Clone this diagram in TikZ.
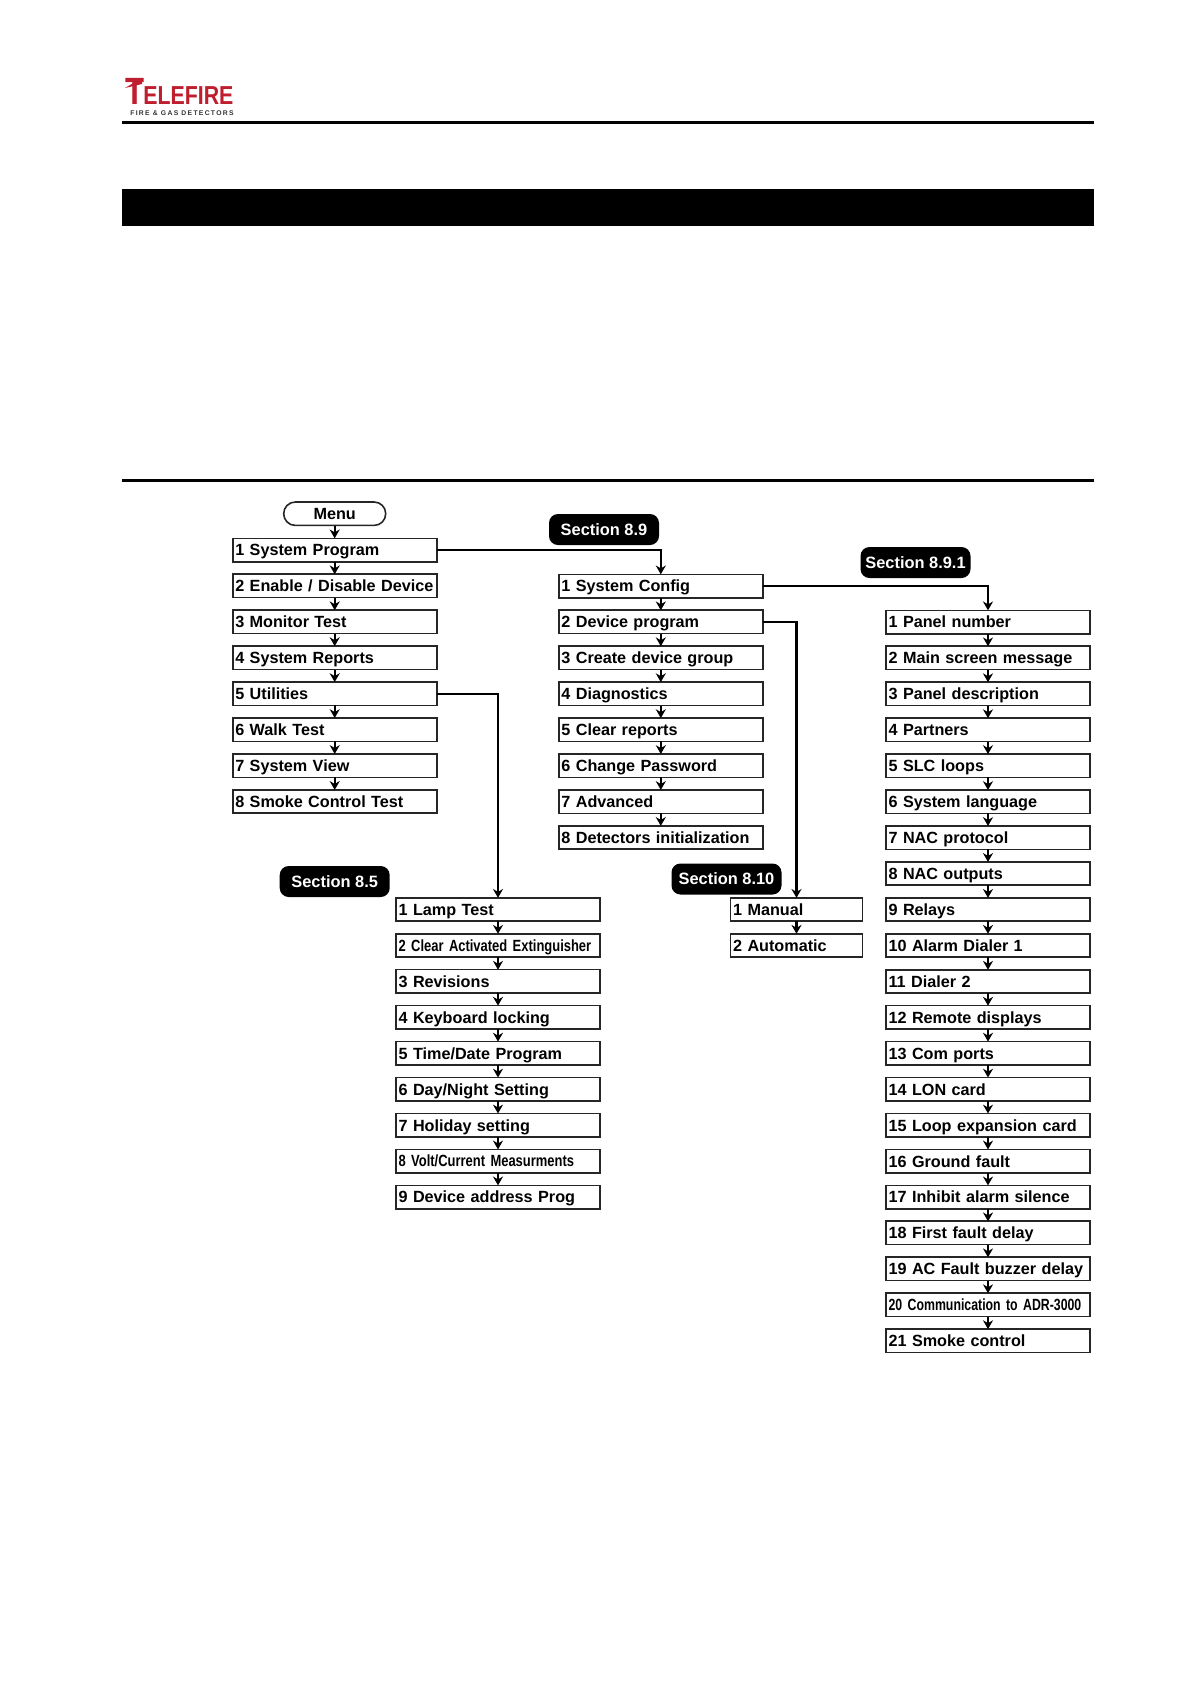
\documentclass[tikz,border=0pt]{standalone}
\usepackage{fontspec}
\setmainfont{Liberation Sans}
\newfontfamily\narrowfont[FakeStretch=0.8]{Liberation Sans}
\newfontfamily\tightfont[FakeStretch=0.76]{Liberation Sans}
\newfontfamily\logofont[FakeStretch=0.82]{Liberation Sans}
\newfontfamily\taglinefont[LetterSpace=19]{Liberation Sans}
\usetikzlibrary{arrows.meta, positioning}
\definecolor{logored}{RGB}{190,30,45}
\tikzstyle{menubox} = [
    rectangle, draw=black!85, line width=0.8pt,
    minimum width=102pt, minimum height=11.7pt, text width=99.4pt,
    inner xsep=1.3pt, inner ysep=0pt, outer sep=0pt, align=left,
    text height=7.1pt, text depth=1.2pt,
    font=\fontsize{8.1}{10}\selectfont\bfseries]
\tikzstyle{shortbox} = [
    menubox, minimum width=66pt, text width=63.4pt]
\tikzstyle{sectionbox} = [
    rectangle, rounded corners=4.5pt, fill=black, text=white,
    minimum width=55pt, minimum height=15.5pt, inner sep=0pt,
    font=\fontsize{8.2}{10}\selectfont\bfseries]
\tikzstyle{startbox} = [
    rectangle, rounded corners=5.8pt, draw=black!85, line width=0.8pt,
    minimum width=51pt, minimum height=11.7pt, inner sep=0pt,
    font=\fontsize{8.1}{10}\selectfont\bfseries]
\tikzstyle{arrow} = [line width=1.1pt, ->, >={Stealth[length=4.4pt,width=5pt]}]

\begin{document}
\begin{tikzpicture}[x=0.5pt, y=-0.5pt, node distance=6.27pt]
  \useasboundingbox (0,0) rectangle (1191,1683);

  % page header
  \node (logot) [text=logored, inner sep=0pt, font=\fontsize{19}{19}\selectfont\logofont\bfseries] at (135,91.5) {T};
  \node (logoname) [text=logored, inner sep=0pt, anchor=west, font=\fontsize{13}{13}\selectfont\logofont\bfseries] at (143,96) {ELEFIRE};
  \node (logotag) [text=black!80, inner sep=0pt, font=\fontsize{3.4}{4}\selectfont\taglinefont\bfseries] at (182,113) {FIRE \& GAS DETECTORS};
  \fill [logored] (125,88) -- (142,78) -- (142,84) -- cycle;
  \fill [black] (122,120.7) rectangle (1093.5,123.7);
  \fill [black] (122,189) rectangle (1093.5,226);
  \fill [black] (122,478.7) rectangle (1093.5,481.7);

  % main menu
  \node (menu) [startbox] at (334.7,513.7) {Menu};
  \node (sp) [menubox] at (334.7,550) {1 System Program};
  \node (enable) [menubox, below=of sp] {2 Enable / Disable Device};
  \node (monitor) [menubox, below=of enable] {3 Monitor Test};
  \node (reports) [menubox, below=of monitor] {4 System Reports};
  \node (utils) [menubox, below=of reports] {5 Utilities};
  \node (walk) [menubox, below=of utils] {6 Walk Test};
  \node (view) [menubox, below=of walk] {7 System View};
  \node (smoke) [menubox, below=of view] {8 Smoke Control Test};

  % section 8.9
  \node (sec89) [sectionbox] at (604,529.5) {Section 8.9};
  \node (config) [menubox] at (660.8,586) {1 System Config};
  \node (devprog) [menubox, below=of config] {2 Device program};
  \node (group) [menubox, below=of devprog] {3 Create device group};
  \node (diag) [menubox, below=of group] {4 Diagnostics};
  \node (clear) [menubox, below=of diag] {5 Clear reports};
  \node (passwd) [menubox, below=of clear] {6 Change Password};
  \node (adv) [menubox, below=of passwd] {7 Advanced};
  \node (detect) [menubox, below=of adv] {8 Detectors initialization};

  % section 8.9.1
  \node (sec891) [sectionbox] at (915.5,562.5) {Section 8.9.1};
  \node (panel) [menubox] at (988,622) {1 Panel number};
  \node (mainmsg) [menubox, below=of panel] {2 Main screen message};
  \node (paneldesc) [menubox, below=of mainmsg] {3 Panel description};
  \node (partners) [menubox, below=of paneldesc] {4 Partners};
  \node (slc) [menubox, below=of partners] {5 SLC loops};
  \node (lang) [menubox, below=of slc] {6 System language};
  \node (nacp) [menubox, below=of lang] {7 NAC protocol};
  \node (naco) [menubox, below=of nacp] {8 NAC outputs};
  \node (relays) [menubox, below=of naco] {9 Relays};
  \node (alarm) [menubox, below=of relays] {10 Alarm Dialer 1};
  \node (dialer) [menubox, below=of alarm] {11 Dialer 2};
  \node (remote) [menubox, below=of dialer] {12 Remote displays};
  \node (com) [menubox, below=of remote] {13 Com ports};
  \node (lon) [menubox, below=of com] {14 LON card};
  \node (loop) [menubox, below=of lon] {15 Loop expansion card};
  \node (ground) [menubox, below=of loop] {16 Ground fault};
  \node (inhibit) [menubox, below=of ground] {17 Inhibit alarm silence};
  \node (first) [menubox, below=of inhibit] {18 First fault delay};
  \node (acfault) [menubox, below=of first] {19 AC Fault buzzer delay};
  \node (adr) [menubox, below=of acfault] {{\tightfont 20 Communication to ADR-3000}};
  \node (smokec) [menubox, below=of adr] {21 Smoke control};

  % section 8.5
  \node (sec85) [sectionbox] at (334.7,881.5) {Section 8.5};
  \node (lamp) [menubox] at (498,909.5) {1 Lamp Test};
  \node (ext) [menubox, below=of lamp] {{\narrowfont 2 Clear Activated Extinguisher}};
  \node (rev) [menubox, below=of ext] {3 Revisions};
  \node (keylock) [menubox, below=of rev] {4 Keyboard locking};
  \node (timedate) [menubox, below=of keylock] {5 Time/Date Program};
  \node (daynight) [menubox, below=of timedate] {6 Day/Night Setting};
  \node (holiday) [menubox, below=of daynight] {7 Holiday setting};
  \node (volt) [menubox, below=of holiday] {{\narrowfont 8 Volt/Current Measurments}};
  \node (addr) [menubox, below=of volt] {9 Device address Prog};

  % section 8.10
  \node (sec810) [sectionbox] at (726.5,879) {Section 8.10};
  \node (manual) [shortbox] at (796.5,909.5) {1 Manual};
  \node (auto) [shortbox, below=of manual] {2 Automatic};

  \draw [arrow] (menu) -- (sp);
  \draw [arrow] (sp) -- (enable);
  \draw [arrow] (enable) -- (monitor);
  \draw [arrow] (monitor) -- (reports);
  \draw [arrow] (reports) -- (utils);
  \draw [arrow] (utils) -- (walk);
  \draw [arrow] (walk) -- (view);
  \draw [arrow] (view) -- (smoke);

  \draw [arrow] (config) -- (devprog);
  \draw [arrow] (devprog) -- (group);
  \draw [arrow] (group) -- (diag);
  \draw [arrow] (diag) -- (clear);
  \draw [arrow] (clear) -- (passwd);
  \draw [arrow] (passwd) -- (adv);
  \draw [arrow] (adv) -- (detect);

  \draw [arrow] (panel) -- (mainmsg);
  \draw [arrow] (mainmsg) -- (paneldesc);
  \draw [arrow] (paneldesc) -- (partners);
  \draw [arrow] (partners) -- (slc);
  \draw [arrow] (slc) -- (lang);
  \draw [arrow] (lang) -- (nacp);
  \draw [arrow] (nacp) -- (naco);
  \draw [arrow] (naco) -- (relays);
  \draw [arrow] (relays) -- (alarm);
  \draw [arrow] (alarm) -- (dialer);
  \draw [arrow] (dialer) -- (remote);
  \draw [arrow] (remote) -- (com);
  \draw [arrow] (com) -- (lon);
  \draw [arrow] (lon) -- (loop);
  \draw [arrow] (loop) -- (ground);
  \draw [arrow] (ground) -- (inhibit);
  \draw [arrow] (inhibit) -- (first);
  \draw [arrow] (first) -- (acfault);
  \draw [arrow] (acfault) -- (adr);
  \draw [arrow] (adr) -- (smokec);

  \draw [arrow] (lamp) -- (ext);
  \draw [arrow] (ext) -- (rev);
  \draw [arrow] (rev) -- (keylock);
  \draw [arrow] (keylock) -- (timedate);
  \draw [arrow] (timedate) -- (daynight);
  \draw [arrow] (daynight) -- (holiday);
  \draw [arrow] (holiday) -- (volt);
  \draw [arrow] (volt) -- (addr);

  \draw [arrow] (manual) -- (auto);

  \draw [arrow] (sp.east) -| (config.north);
  \draw [arrow] (config.east) -| (panel.north);
  \draw [arrow] (devprog.east) -| (manual.north);
  \draw [arrow] (utils.east) -| (lamp.north);

\end{tikzpicture}
\end{document}
